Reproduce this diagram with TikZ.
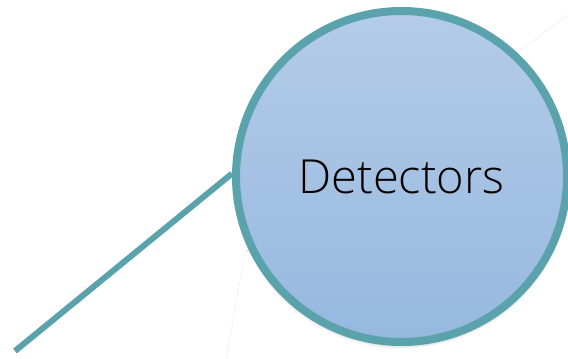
\documentclass[tikz,border=0pt]{standalone}
\usepackage{fontspec}
\setmainfont{Open Sans}
\newfontfamily\lightfont{Open Sans Light}
\usetikzlibrary{shadows.blur,backgrounds}
\definecolor{teal1}{HTML}{5BA3AC}
\definecolor{filltop}{HTML}{B4CCE8}
\definecolor{fillbot}{HTML}{96B8DF}
\definecolor{faint}{HTML}{EFEFEF}
\tikzset{
  bubble/.style={circle, draw=teal1, line width=8pt, inner sep=0pt,
    minimum size=331pt, top color=filltop, bottom color=fillbot,
    font=\lightfont\fontsize{47}{50}\selectfont, text=black,
    blur shadow={shadow xshift=0pt, shadow yshift=-3pt, shadow blur radius=4pt, shadow opacity=35}},
  connector/.style={draw=teal1, line width=6pt},
  faintline/.style={draw=faint, line width=0.6pt}
}
\begin{document}
\begin{tikzpicture}[x=1pt,y=-1pt]
\useasboundingbox (0,0) rectangle (568,359);
\clip (0,0) rectangle (568,359);
\draw[faintline] (520,50) -- (568,15);
\draw[faintline] (250,249) -- (245,253) -- (226,359);
\node[bubble] (det) at (401.5,176.5) {Detectors};
\coordinate (start) at (15,351);
\begin{scope}[on background layer]
\draw[connector] (start) -- (det.179);
\end{scope}
\end{tikzpicture}
\end{document}
